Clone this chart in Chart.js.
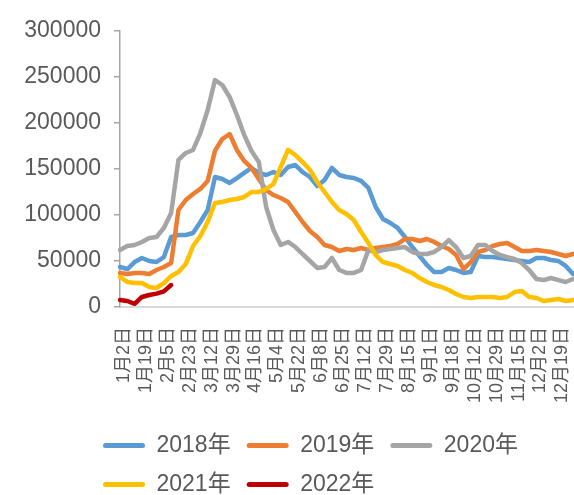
<!DOCTYPE html>
<html>
<head>
<meta charset="utf-8">
<script src="https://cdn.jsdelivr.net/npm/chart.js@4.4.0/dist/chart.umd.min.js"></script>
<style>
html, body { margin: 0; padding: 0; background: #fff; }
</style>
</head>
<body>
<canvas id="grafico" width="574" height="495"></canvas>
<script>
var fechas = ["1月2日","1月7日","1月13日","1月19日","1月24日","1月30日","2月5日","2月11日","2月17日","2月23日",
  "2月28日","3月6日","3月12日","3月18日","3月23日","3月29日","4月4日","4月10日","4月16日","4月22日",
  "4月28日","5月4日","5月10日","5月16日","5月22日","5月28日","6月2日","6月8日","6月14日","6月19日",
  "6月25日","7月1日","7月6日","7月12日","7月18日","7月23日","7月29日","8月4日","8月9日","8月15日",
  "8月21日","8月26日","9月1日","9月7日","9月12日","9月18日","9月24日","10月8日","10月12日","10月18日",
  "10月23日","10月29日","11月4日","11月9日","11月15日","11月21日","11月26日","12月2日","12月8日","12月13日",
  "12月19日","12月25日","12月31日"];

var serie2018 = [43500,41300,48900,53300,50000,48900,54300,76100,78300,78300,
  80400,92400,105400,141300,139100,134800,140200,145700,151100,145700,
  143500,146700,143500,152200,154300,146700,141300,131500,138000,151100,
  143500,141300,140200,137000,129400,108700,95700,91300,85900,76100,
  65200,55400,45700,38000,38000,42400,40200,37000,38000,55400,
  54300,54300,53300,52200,51100,50000,48900,53300,53300,51100,
  50000,44600,35900];
var serie2019 = [37000,35900,37000,37000,35900,40200,43500,47800,105400,116300,
  122800,128300,137000,170000,182600,188000,170700,158700,151100,139100,
  127200,121700,118500,114100,103300,92400,82600,76100,67400,65200,
  60900,63000,62000,64100,62000,64100,65200,66300,68500,73900,
  73900,71700,73900,70700,66300,63000,56500,41300,48900,59800,
  62000,66300,68500,69600,65200,60900,60900,62000,60900,59800,
  57600,55400,57600];
var serie2020 = [62000,66300,67400,70700,75000,76100,85900,102200,159800,167400,
  170700,189100,214100,246700,241300,228300,208700,187000,169600,157600,
  108700,83700,67400,70700,65200,57600,50000,42400,43500,53300,
  40200,37000,37000,40200,62000,59800,62000,63000,64100,65200,
  59800,57600,57600,59800,65200,72800,65200,53300,55400,67400,
  67400,60900,56500,54300,52200,47800,40200,30400,29300,31500,
  29300,27200,30400];
var serie2021 = [32600,27200,26100,26100,21700,20700,26000,33700,38000,46700,
  66300,77200,92400,113000,114100,116300,117400,119600,125000,125000,
  128300,133700,152200,170700,165200,157600,148900,135900,125000,114100,
  105400,101100,94600,81500,69600,56500,48900,46700,44600,40200,
  37000,31500,27200,23900,21700,18500,14100,10900,9800,10900,
  10900,10900,9800,10900,16300,17400,10900,9800,6500,7600,
  8700,6500,7600];
var serie2022 = [7600,6500,3500,10900,13000,14500,17000,23900];

var nombres = ["2018年", "2019年", "2020年", "2021年", "2022年"];
var colores = ["#5B9BD5", "#ED7D31", "#A5A5A5", "#FFC000", "#C00000"];
var series = [serie2018, serie2019, serie2020, serie2021, serie2022];

var fuente = "'Liberation Sans', 'Noto Sans CJK SC', sans-serif";
Chart.defaults.font.family = fuente;

var datasets = [];
for (var i = 0; i < series.length; i++) {
  datasets.push({
    label: nombres[i],
    data: series[i],
    borderColor: colores[i],
    backgroundColor: colores[i],
    borderWidth: 4.5,
    pointRadius: 0,
    tension: 0,
    borderJoinStyle: 'round',
    borderCapStyle: 'round',
    order: series.length - i
  });
}

// la leyenda de Excel va alineada a la izquierda, bajo el eje
var ajusteLeyenda = {
  id: 'ajusteLeyenda',
  beforeDraw: function(chart) {
    var l = chart.legend;
    l.left = 87;
    l.right = 574;
    l.top = 418;
    l.bottom = 495;
  }
};

new Chart(document.getElementById("grafico"), {
  type: 'line',
  data: {
    labels: fechas,
    datasets: datasets
  },
  plugins: [ajusteLeyenda],
  options: {
    responsive: false,
    animation: false,
    layout: { padding: { left: 20, right: 1, top: 31, bottom: 13 } },
    plugins: {
      tooltip: { enabled: false },
      legend: {
        display: true,
        position: 'bottom',
        align: 'start',
        maxHeight: 80,
        labels: {
          color: '#595959',
          font: { size: 23 },
          boxWidth: 42,
          boxHeight: 5,
          padding: 16,
          useBorderRadius: true,
          borderRadius: 2.5,
          sort: function(a, b) { return a.datasetIndex - b.datasetIndex; },
          generateLabels: function(chart) {
            var items = Chart.defaults.plugins.legend.labels.generateLabels(chart);
            items.forEach(function(it) { it.lineWidth = 0; it.borderRadius = 2.5; });
            return items;
          }
        }
      }
    },
    scales: {
      x: {
        grid: { display: false, drawTicks: false },
        border: { display: true, color: '#d9d9d9', width: 2 },
        afterFit: function(scale) {
          scale.height = 95;
          scale.paddingLeft = 0;
          scale.paddingRight = 0;
        },
        ticks: {
          autoSkip: false,
          minRotation: 90,
          maxRotation: 90,
          padding: 20,
          labelOffset: 4,
          color: '#595959',
          font: { size: 18 },
          callback: function(v, i) {
            return (i % 3 === 0 && i <= 60) ? this.getLabelForValue(v) : null;
          }
        }
      },
      y: {
        min: 0,
        max: 300000,
        afterFit: function(scale) { scale.width = 100; },
        grid: { drawOnChartArea: false, drawTicks: true, tickLength: 6, color: '#a6a6a6', lineWidth: 1.5 },
        border: { display: true, color: '#a6a6a6', width: 1.5 },
        ticks: {
          stepSize: 50000,
          padding: 13,
          color: '#595959',
          font: { size: 23 },
          callback: function(v) { return String(v); }
        }
      }
    }
  }
});
</script>
</body>
</html>
